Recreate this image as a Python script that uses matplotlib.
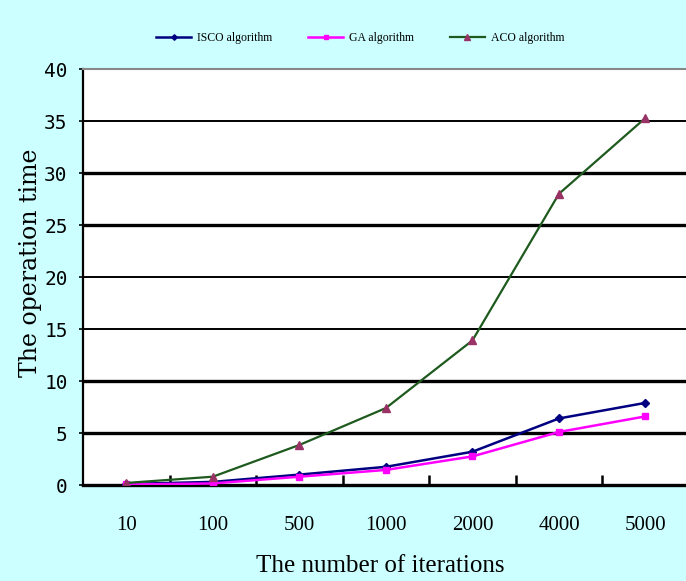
import matplotlib
matplotlib.use("Agg")
import matplotlib.pyplot as plt

# Datos
iteraciones = ["10", "100", "500", "1000", "2000", "4000", "5000"]
isco = [0.1, 0.3, 1.0, 1.75, 3.2, 6.4, 7.9]
ga = [0.05, 0.15, 0.8, 1.45, 2.75, 5.1, 6.6]
aco = [0.2, 0.8, 3.85, 7.4, 13.9, 28.0, 35.3]
y_ticks = [0, 5, 10, 15, 20, 25, 30, 35, 40]

plt.rcParams["font.family"] = ["Liberation Serif", "DejaVu Serif"]

fondo = "#CCFFFF"
fig = plt.figure(figsize=(6.86, 5.81), dpi=100, facecolor=fondo)
# el area de trazado se sale un poco por la derecha, como en el original
ax = fig.add_axes([0.121, 0.1652, 0.883, 0.716])
ax.set_facecolor("white")

pos = list(range(len(iteraciones)))

# Lineas horizontales, unas mas gruesas que otras como en la imagen
grosor = {5: 2.4, 10: 2.4, 15: 1.4, 20: 1.4, 25: 2.4, 30: 2.4, 35: 1.4}
for v, lw in grosor.items():
    ax.axhline(v, color="black", linewidth=lw, zorder=1)

ax.plot(pos, isco, color="#000080", marker="D", markersize=4, linewidth=1.8,
        label="ISCO algorithm", zorder=3)
ax.plot(pos, ga, color="#FF00FF", marker="s", markersize=5, linewidth=1.8,
        label="GA algorithm", zorder=3)
ax.plot(pos, aco, color="#1E5A1E", marker="^", markersize=6, linewidth=1.6,
        markerfacecolor="#993366", markeredgecolor="#993366",
        label="ACO algorithm", zorder=3)

ax.set_xlim(-0.5, len(iteraciones) - 0.5)
ax.set_ylim(0, 40)

ax.set_yticks(y_ticks)
ax.set_yticklabels([str(v) for v in y_ticks], fontsize=14, family="DejaVu Sans Mono")
ax.tick_params(axis="y", direction="out", length=3, width=1.2, pad=8)

# marcas entre categorias, hacia dentro
ax.set_xticks([p + 0.5 for p in pos[:-1]], minor=True)
ax.set_xticks(pos)
ax.set_xticklabels(iteraciones, fontsize=15)
ax.tick_params(axis="x", which="major", length=0, pad=22)
ax.tick_params(axis="x", which="minor", direction="in", length=7, width=1.8)

ax.spines["bottom"].set_linewidth(2.4)
ax.spines["left"].set_linewidth(1.6)
ax.spines["top"].set_color("#888888")
ax.spines["top"].set_linewidth(1.5)
ax.spines["right"].set_visible(False)

fig.text(0.045, 0.547, "The operation time", rotation=90, fontsize=17,
         ha="center", va="center", family="DejaVu Serif")
fig.text(0.555, 0.025, "The number of iterations", fontsize=18,
         ha="center", va="center")

fig.legend(loc="center", bbox_to_anchor=(0.525, 1 - 38 / 581), ncol=3,
           frameon=False, fontsize=8.5, handlelength=3.0, columnspacing=3.0,
           handletextpad=0.5, markerscale=0.7)

fig.savefig("out.png", dpi=100, facecolor=fondo)
